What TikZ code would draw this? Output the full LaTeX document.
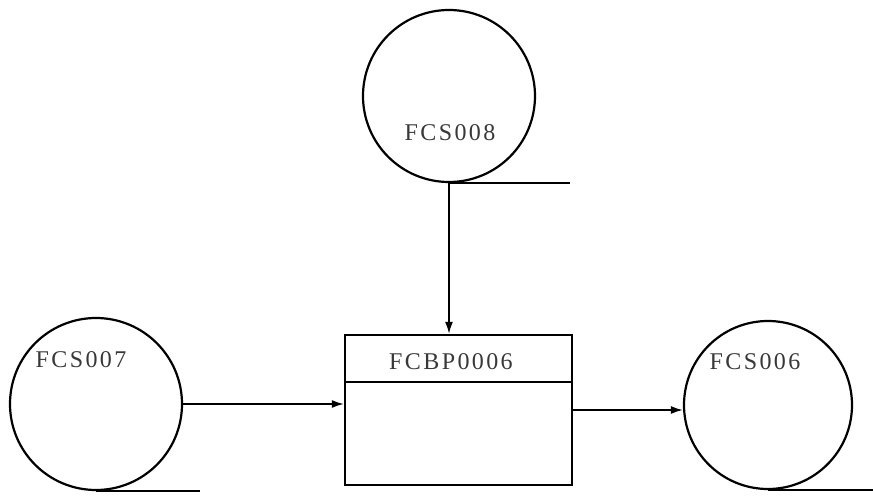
\documentclass[tikz,border=0pt]{standalone}
\usepackage{fontspec}
\setmainfont[LetterSpace=10]{Liberation Serif}
\usetikzlibrary{arrows.meta}
\tikzset{
  store/.style={draw, circle, line width=2.2pt, inner sep=0pt},
  procbox/.style={draw, rectangle, line width=2.4pt, inner sep=0pt,
    minimum width=227pt, minimum height=150pt},
  flow/.style={line width=1.6pt, -{Latex[length=12pt,width=8pt]}},
  tick/.style={line width=2pt},
  txt/.style={font=\fontsize{24}{24}\selectfont, text=black!78}
}
\begin{document}
\begin{tikzpicture}[x=1pt,y=1pt]
\useasboundingbox (0,0) rectangle (873,496);

\node[store, minimum size=172pt] (fcs008) at (449,400) {};
\node[store, minimum size=172pt] (fcs007) at (96,92) {};
\node[store, minimum size=168pt] (fcs006) at (768,91) {};
\node[procbox] (fcbp) at (458.5,86) {};

\draw[line width=2pt] ([yshift=-48pt]fcbp.north west) -- ([yshift=-48pt]fcbp.north east);

\node[txt] (l008) at (450,363) {FCS008};
\node[txt] (l007) at (81,136) {FCS007};
\node[txt] (lbp) at (451,134) {FCBP0006};
\node[txt] (l006) at (755,134) {FCS006};

% tangent lines under the stores
\draw[tick] (fcs008.south) -- ++(121,0);
\draw[tick] (fcs007.south) -- ++(104,0);
\draw[tick] (fcs006.south) -- ++(105,0);

% flows
\draw[flow] (fcs008.south) -- (fcs008.south |- fcbp.north);
\draw[flow] (fcs007.east) -- (fcs007.east -| fcbp.west);
\draw[flow] (fcbp.east) -- (fcbp.east -| fcs006.west);

\end{tikzpicture}
\end{document}
